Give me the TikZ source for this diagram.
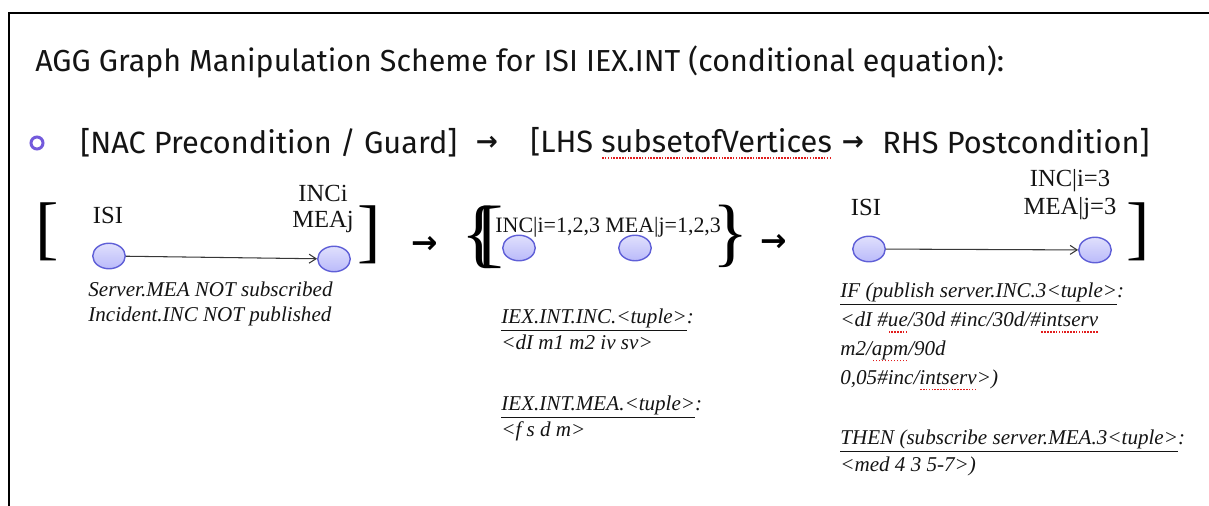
\documentclass[tikz,border=0pt]{standalone}
\usepackage{fontspec}
\setmainfont{Liberation Serif}
\newfontfamily\aggcomic{Fira Sans}
\newfontfamily\aggsym{DejaVu Sans}
\usetikzlibrary{arrows.meta,shapes.geometric}
\definecolor{AggInk}{RGB}{20,20,20}
\definecolor{AggNodeFill}{RGB}{186,186,250}
\definecolor{AggNodeDraw}{RGB}{95,95,215}
\definecolor{AggBullet}{RGB}{115,90,220}
\definecolor{AggEdge}{RGB}{55,55,55}
\definecolor{AggSpell}{RGB}{225,30,30}
\newcommand\aggsquig[1]{\setbox0=\hbox{#1}\rlap{\textcolor{AggSpell}{\raisebox{-3.5pt}{\hbox to \wd0{\xleaders\hbox to 1.6pt{\hss\rule{0.9pt}{0.9pt}\hss}\hfill}}}}\box0}
\tikzset{
  agg/vertex/.style={
    ellipse,
    draw=AggNodeDraw,
    thick,
    top color=AggNodeFill!45,
    bottom color=AggNodeFill,
    minimum width=0.65cm,
    minimum height=0.51cm,
    inner sep=0pt
  },
  agg/heading/.style={font=\aggcomic\fontsize{17.5}{21}\selectfont, text=AggInk, anchor=west, inner sep=0pt},
  agg/smallarrow/.style={font=\aggsym\bfseries\fontsize{15}{18}\selectfont, text=AggInk, inner sep=0pt},
  agg/label/.style={font=\fontsize{14}{16}\selectfont, text=AggInk, align=center, inner sep=0pt},
  agg/note/.style={font=\itshape\fontsize{12}{14.2}\selectfont, text=AggInk, align=left, anchor=base west, inner sep=0pt},
  agg/bracket/.style={font=\fontsize{40}{40}\selectfont, text=black, inner sep=0pt},
  agg/bigarrow/.style={font=\aggsym\bfseries\fontsize{18}{18}\selectfont, text=black, inner sep=0pt},
  agg/edge/.style={-{Straight Barb[length=1.4mm,width=1.8mm]}, draw=AggEdge, semithick},
  agg/frame/.style={draw=black, line width=1.4pt}
}

\begin{document}
\begin{tikzpicture}[x=0.02cm,y=-0.02cm]
  \useasboundingbox (0,0) rectangle (1209,506);
  \draw[agg/frame] (9,506) -- (9,13) -- (1209,13);

  \node[agg/heading, font=\aggcomic\fontsize{17.3}{20}\selectfont] (title) at (35,62) {AGG Graph Manipulation Scheme for ISI IEX.INT (conditional equation):};

  \node[circle, draw=AggBullet, line width=1.7pt, minimum size=0.24cm, inner sep=0pt] (bullet) at (37,143) {};
  \node[agg/heading] (nac) at (80,143) {[NAC Precondition / Guard]};
  \node[agg/smallarrow] (then1) at (487,143) {→};
  \node[agg/heading] (lhs) at (530,143) {[LHS \aggsquig{subsetofVertices}};
  \node[agg/smallarrow] (then2) at (853,143) {→};
  \node[agg/heading] (rhs) at (882,143) {RHS Postcondition]};

  \node[agg/bracket] (nacopen) at (47,232) {[};
  \node[agg/vertex] (nacisi) at (109,256) {};
  \node[agg/vertex] (nacinc) at (334,259) {};
  \node[agg/label] (nacisilabel) at (108,215) {ISI};
  \node[agg/label, font=\fontsize{14}{14.8}\selectfont] (nacinclabel) at (323,209) {INCi\\MEAj};
  \node[agg/bracket] (nacclose) at (369,235) {]};
  \draw[agg/edge] (nacisi) -- (nacinc);
  \node[agg/note] (nacnote) at (88,321) {Server.MEA NOT subscribed\\Incident.INC NOT published};

  \node[agg/bigarrow] (step1) at (425,245) {→};

  \node[agg/bracket, font=\fontsize{43}{43}\selectfont] (lhsopen) at (480,237) {\{};
  \node[agg/bracket, font=\fontsize{43}{43}\selectfont] (lhsbar) at (491,237) {[};
  \node[agg/vertex] (lhsinc) at (519,248) {};
  \node[agg/vertex] (lhsmea) at (635,248) {};
  \node[agg/label, anchor=west, font=\fontsize{12.5}{14}\selectfont] (lhsinclabel) at (495,227) {INC|i=1,2,3};
  \node[agg/label, anchor=west, font=\fontsize{12.5}{14}\selectfont] (lhsmealabel) at (605,227) {MEA|j=1,2,3};
  \node[agg/bracket, font=\fontsize{43}{43}\selectfont] (lhsclose) at (731,236) {\}};
  \node[agg/note, font=\itshape\fontsize{12}{14.7}\selectfont] (incnote) at (501,349) {\underline{IEX.INT.INC.<tuple>}:\\<dI m1 m2 iv sv>};
  \node[agg/note, font=\itshape\fontsize{12}{14.7}\selectfont] (meanote) at (501,436) {\underline{IEX.INT.MEA.<tuple>}:\\<f s d m>};

  \node[agg/bigarrow] (step2) at (774,243) {→};

  \node[agg/vertex] (rhsisi) at (869,249) {};
  \node[agg/vertex] (rhsmea) at (1095,250) {};
  \node[agg/label] (rhsisilabel) at (866,207) {ISI};
  \node[agg/label, font=\fontsize{14}{15.8}\selectfont] (rhsmealabel) at (1070,195) {INC|i=3\\MEA|j=3};
  \node[agg/bracket] (rhsclose) at (1138,232) {]};
  \draw[agg/edge] (rhsisi) -- (rhsmea);
  \node[agg/note, font=\itshape\fontsize{12}{16.4}\selectfont] (ifnote) at (840,384) {\underline{IF (publish server.INC.3<tuple>}:\\<dI \#\aggsquig{ue}/30d \#inc/30d/\#\aggsquig{intserv}\\m2/\aggsquig{apm}/90d\\0,05\#inc/\aggsquig{intserv}>)};
  \node[agg/note, font=\itshape\fontsize{12}{15.3}\selectfont] (thennote) at (840,471) {\underline{THEN (subscribe server.MEA.3<tuple>}:\\<med 4 3 5-7>)};
\end{tikzpicture}
\end{document}
